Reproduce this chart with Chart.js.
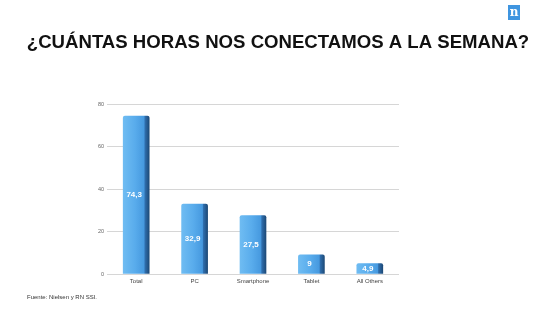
<!DOCTYPE html>
<html>
<head>
<meta charset="utf-8">
<script src="https://cdn.jsdelivr.net/npm/chart.js@4/dist/chart.umd.min.js"></script>
<style>
  html, body { margin: 0; padding: 0; background: #fff; }
  #wrap { width: 560px; height: 310px; }
</style>
</head>
<body>
<div id="wrap"><canvas id="chart" width="560" height="310"></canvas></div>
<script>
// Datos
const categorias = ["Total", "PC", "Smartphone", "Tablet", "All Others"];
const horas = [74.3, 32.9, 27.5, 9, 4.9];
const etiquetas = ["74,3", "32,9", "27,5", "9", "4,9"];
const ticksY = [0, 20, 40, 60, 80];

const titulo = "¿CUÁNTAS HORAS NOS CONECTAMOS A LA SEMANA?";
const fuente = "Fuente: Nielsen y RN SSI.";

const ANCHO_BARRA = 26;

// Degradado para la cara frontal de cada barra (efecto 3D)
function barGradient(context) {
  const chart = context.chart;
  const xScale = chart.scales.x;
  if (!chart.chartArea || !xScale) return "#4aa0e2";
  const cx = xScale.getPixelForValue(context.dataIndex);
  if (!isFinite(cx)) return "#4aa0e2";
  const x0 = cx - ANCHO_BARRA / 2;
  const x1 = cx + ANCHO_BARRA / 2;
  const g = chart.ctx.createLinearGradient(x0, 0, x1, 0);
  g.addColorStop(0, "#6fbcf2");
  g.addColorStop(0.45, "#59acec");
  g.addColorStop(0.8, "#4699df");
  g.addColorStop(0.84, "#2f6ead");
  g.addColorStop(1, "#1d4a78");
  return g;
}

// Título, logo, fuente y valores dentro de las barras
const decoPlugin = {
  id: "deco",
  afterDraw(chart) {
    const ctx = chart.ctx;
    ctx.save();
    // título
    ctx.fillStyle = "#111";
    ctx.font = "bold 18.6px 'Liberation Sans', Arial, sans-serif";
    ctx.textAlign = "center";
    ctx.textBaseline = "middle";
    ctx.fillText(titulo, 278, 43);

    // logo
    ctx.fillStyle = "#3f95e0";
    ctx.fillRect(508, 5, 12, 15);
    ctx.fillStyle = "#fff";
    ctx.font = "bold 12px 'DejaVu Serif', serif";
    ctx.fillText("n", 514, 13);

    // fuente
    ctx.fillStyle = "#333";
    ctx.font = "6px 'Liberation Sans', Arial, sans-serif";
    ctx.textAlign = "left";
    ctx.fillText(fuente, 27, 297);

    // valores
    const meta = chart.getDatasetMeta(0);
    ctx.fillStyle = "#fff";
    ctx.font = "bold 8px 'Liberation Sans', Arial, sans-serif";
    ctx.textAlign = "center";
    meta.data.forEach((bar, i) => {
      const y = (bar.y + bar.base) / 2;
      ctx.fillText(etiquetas[i], bar.x - 2, y);
    });
    ctx.restore();
  },
};

new Chart(document.getElementById("chart"), {
  type: "bar",
  data: {
    labels: categorias,
    datasets: [
      {
        data: horas,
        backgroundColor: barGradient,
        borderWidth: 0,
        borderRadius: { topLeft: 2, topRight: 2 },
        borderSkipped: "bottom",
        barThickness: ANCHO_BARRA,
      },
    ],
  },
  options: {
    responsive: false,
    animation: false,
    layout: {
      padding: { top: 104, left: 77, right: 161, bottom: 22 },
    },
    plugins: {
      legend: { display: false },
      tooltip: { enabled: false },
    },
    scales: {
      x: {
        grid: { display: false, drawTicks: false, tickLength: 0 },
        border: { display: false },
        ticks: {
          color: "#444",
          padding: 4,
          maxRotation: 0,
          minRotation: 0,
          autoSkip: false,
          font: { size: 6, family: "'Liberation Sans', Arial, sans-serif" },
        },
        afterFit: (scale) => {
          scale.height = 14;
        },
      },
      y: {
        min: 0,
        max: 80,
        afterBuildTicks: (scale) => {
          scale.ticks = ticksY.map((v) => ({ value: v }));
        },
        grid: {
          color: "#d6d6d6",
          lineWidth: 1,
          tickLength: 0,
        },
        border: { display: false },
        ticks: {
          color: "#666",
          padding: 3,
          font: { size: 5.5, family: "'Liberation Sans', Arial, sans-serif" },
        },
        afterFit: (scale) => {
          scale.width = 30;
        },
      },
    },
  },
  plugins: [decoPlugin],
});
</script>
</body>
</html>
